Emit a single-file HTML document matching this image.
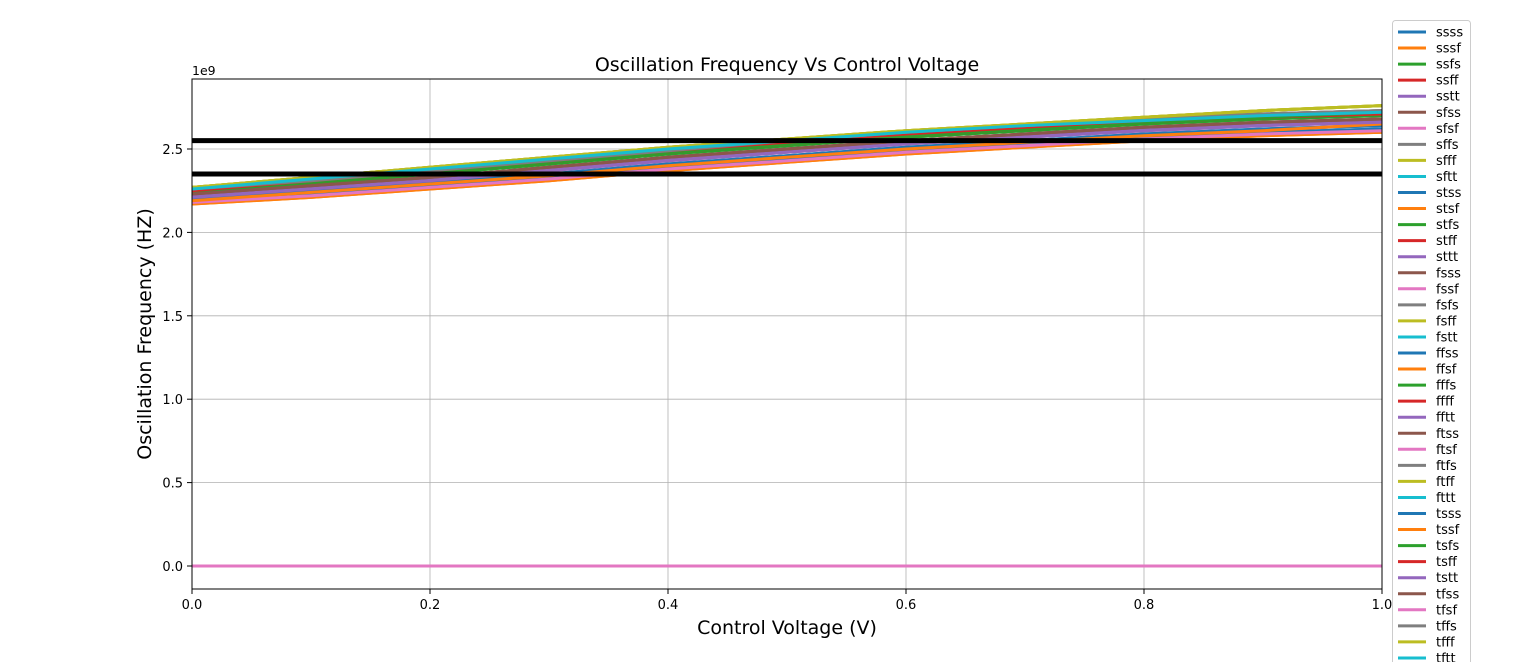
<!DOCTYPE html>
<html><head><meta charset="utf-8"><style>
html,body{margin:0;background:#fff;overflow:hidden;width:1536px;height:662px;}
svg{display:block;font-family:"DejaVu Sans","Liberation Sans",sans-serif;}
</style></head><body>
<svg id="chart" width="1536" height="662" viewBox="0 0 1536 662" xmlns="http://www.w3.org/2000/svg">
<rect x="0" y="0" width="1536" height="662" fill="#fff"/>
<g id="grid"></g>
<g id="series" clip-path="url(#clip)"></g>
<defs><clipPath id="clip"><rect x="192" y="79" width="1190" height="510"/></clipPath></defs>
<g id="axes"></g>
<g id="legend"></g>
<text x="787" y="71" font-size="19" text-anchor="middle" fill="#000">Oscillation Frequency Vs Control Voltage</text>
<text x="787" y="634" font-size="19" text-anchor="middle" fill="#000">Control Voltage (V)</text>
<text transform="translate(151,334) rotate(-90)" font-size="19" text-anchor="middle" fill="#000">Oscillation Frequency (HZ)</text>
<text x="192" y="75" font-size="12.5" fill="#000">1e9</text>
</svg>
<script>
const xValues=[0,0.1,0.2,0.3,0.4,0.5,0.6,0.7,0.8,0.9,1.0];
const xTicks=[0,0.2,0.4,0.6,0.8,1.0];
const xTickLabels=["0.0","0.2","0.4","0.6","0.8","1.0"];
const yTicks=[0,0.5,1.0,1.5,2.0,2.5];
const yTickLabels=["0.0","0.5","1.0","1.5","2.0","2.5"];
const hLines=[2.55,2.35];
const seriesNames=["ssss","sssf","ssfs","ssff","sstt","sfss","sfsf","sffs","sfff","sftt","stss","stsf","stfs","stff","sttt","fsss","fssf","fsfs","fsff","fstt","ffss","ffsf","fffs","ffff","fftt","ftss","ftsf","ftfs","ftff","fttt","tsss","tssf","tsfs","tsff","tstt","tfss","tfsf","tffs","tfff","tftt"];
const s0=[2.19,2.23,2.28,2.33,2.39,2.44,2.49,2.53,2.57,2.60,2.62];
const s1=[2.17,2.21,2.26,2.31,2.37,2.42,2.47,2.51,2.55,2.58,2.60];
const s2=[2.24,2.29,2.35,2.41,2.47,2.52,2.57,2.61,2.65,2.68,2.70];
const s3=[2.25,2.30,2.36,2.42,2.48,2.53,2.58,2.62,2.66,2.69,2.71];
const s4=[2.22,2.27,2.32,2.38,2.44,2.49,2.54,2.58,2.62,2.65,2.67];
const s5=[2.23,2.28,2.33,2.39,2.45,2.50,2.55,2.59,2.63,2.66,2.68];
const s6=[2.18,2.22,2.27,2.32,2.38,2.43,2.48,2.52,2.56,2.59,2.61];
const s7=[2.26,2.31,2.37,2.43,2.49,2.55,2.60,2.64,2.68,2.71,2.73];
const s8=[2.27,2.33,2.39,2.45,2.51,2.56,2.61,2.65,2.69,2.73,2.76];
const s9=[2.26,2.32,2.38,2.44,2.50,2.55,2.60,2.64,2.67,2.70,2.72];
const s10=[2.20,2.25,2.30,2.35,2.41,2.46,2.51,2.55,2.59,2.62,2.64];
const s11=[2.19,2.24,2.29,2.34,2.40,2.45,2.50,2.54,2.58,2.61,2.65];
const s12=[2.24,2.30,2.36,2.42,2.48,2.53,2.58,2.62,2.66,2.69,2.72];
const s13=[2.25,2.31,2.37,2.43,2.49,2.54,2.59,2.63,2.67,2.70,2.72];
const s14=[2.21,2.26,2.31,2.37,2.43,2.48,2.53,2.57,2.61,2.64,2.66];
const sZero=[0,0,0,0,0,0,0,0,0,0,0];
const seriesValues=[s0,s1,s2,s3,s4,s5,s6,s7,s8,s9,s10,s11,s12,s13,s14,s5,s6,s7,s8,s9,s0,s1,s2,s3,s4,s5,s6,s7,s8,s9,s10,s11,s12,s13,s14,s5,sZero,s7,s8,s9];
const colors=["#1f77b4","#ff7f0e","#2ca02c","#d62728","#9467bd","#8c564b","#e377c2","#7f7f7f","#bcbd22","#17becf"];
const NS="http://www.w3.org/2000/svg";
const X0=192,X1=1382,Y0=589,YT=79;
function xs(v){return X0+(X1-X0)*v;}
function ys(v){return 566-v*166.8;}
function mk(tag,attrs,parent){const e=document.createElementNS(NS,tag);for(const k in attrs)e.setAttribute(k,attrs[k]);parent.appendChild(e);return e;}
const grid=document.getElementById('grid'),axes=document.getElementById('axes'),ser=document.getElementById('series'),leg=document.getElementById('legend');
xTicks.forEach((t,i)=>{
 const g=mk('line',{x1:xs(t),x2:xs(t),y1:YT,y2:Y0,stroke:'#b0b0b0','stroke-width':0.8},grid);
 
 
 mk('line',{x1:xs(t),x2:xs(t),y1:Y0,y2:Y0+5,stroke:'#000'},axes);
 const tx=mk('text',{x:xs(t),y:Y0+20,'font-size':13,'text-anchor':'middle'},axes);
 tx.textContent=xTickLabels[i];
 
 
});
yTicks.forEach((t,i)=>{
 const g=mk('line',{x1:X0,x2:X1,y1:ys(t),y2:ys(t),stroke:'#b0b0b0','stroke-width':0.8},grid);
 
 
 mk('line',{x1:X0-5,x2:X0,y1:ys(t),y2:ys(t),stroke:'#000'},axes);
 const tx=mk('text',{x:X0-9,y:ys(t)+5,'font-size':13,'text-anchor':'end'},axes);
 tx.textContent=yTickLabels[i];
 
 
});
seriesValues.forEach((vals,i)=>{
 const d=vals.map((v,j)=>(j?'L':'M')+xs(xValues[j]).toFixed(1)+','+ys(v).toFixed(1)).join(' ');
 const p=mk('path',{d:d,fill:'none',stroke:colors[i%10],'stroke-width':3},ser);
 
 
});
hLines.forEach(v=>{
 const l=mk('line',{x1:X0,x2:X1,y1:ys(v),y2:ys(v),stroke:'#000','stroke-width':5},ser);
 
 
});
const frame=mk('rect',{x:X0,y:YT,width:X1-X0,height:Y0-YT,fill:'none',stroke:'#000','stroke-width':1},axes);


const lb=mk('rect',{x:1392.5,y:20.5,width:78,height:645,rx:3,fill:'#fff','fill-opacity':0.8,stroke:'#ccc'},leg);


seriesNames.forEach((n,i)=>{
 const y=32+16.05*i;
 const g=mk('g',{},leg);
 
 
 mk('line',{x1:1398,x2:1426,y1:y,y2:y,stroke:colors[i%10],'stroke-width':3},g);
 const t=mk('text',{x:1436,y:y+4.5,'font-size':13},g);
 t.textContent=n;
});
</script>
</body></html>
